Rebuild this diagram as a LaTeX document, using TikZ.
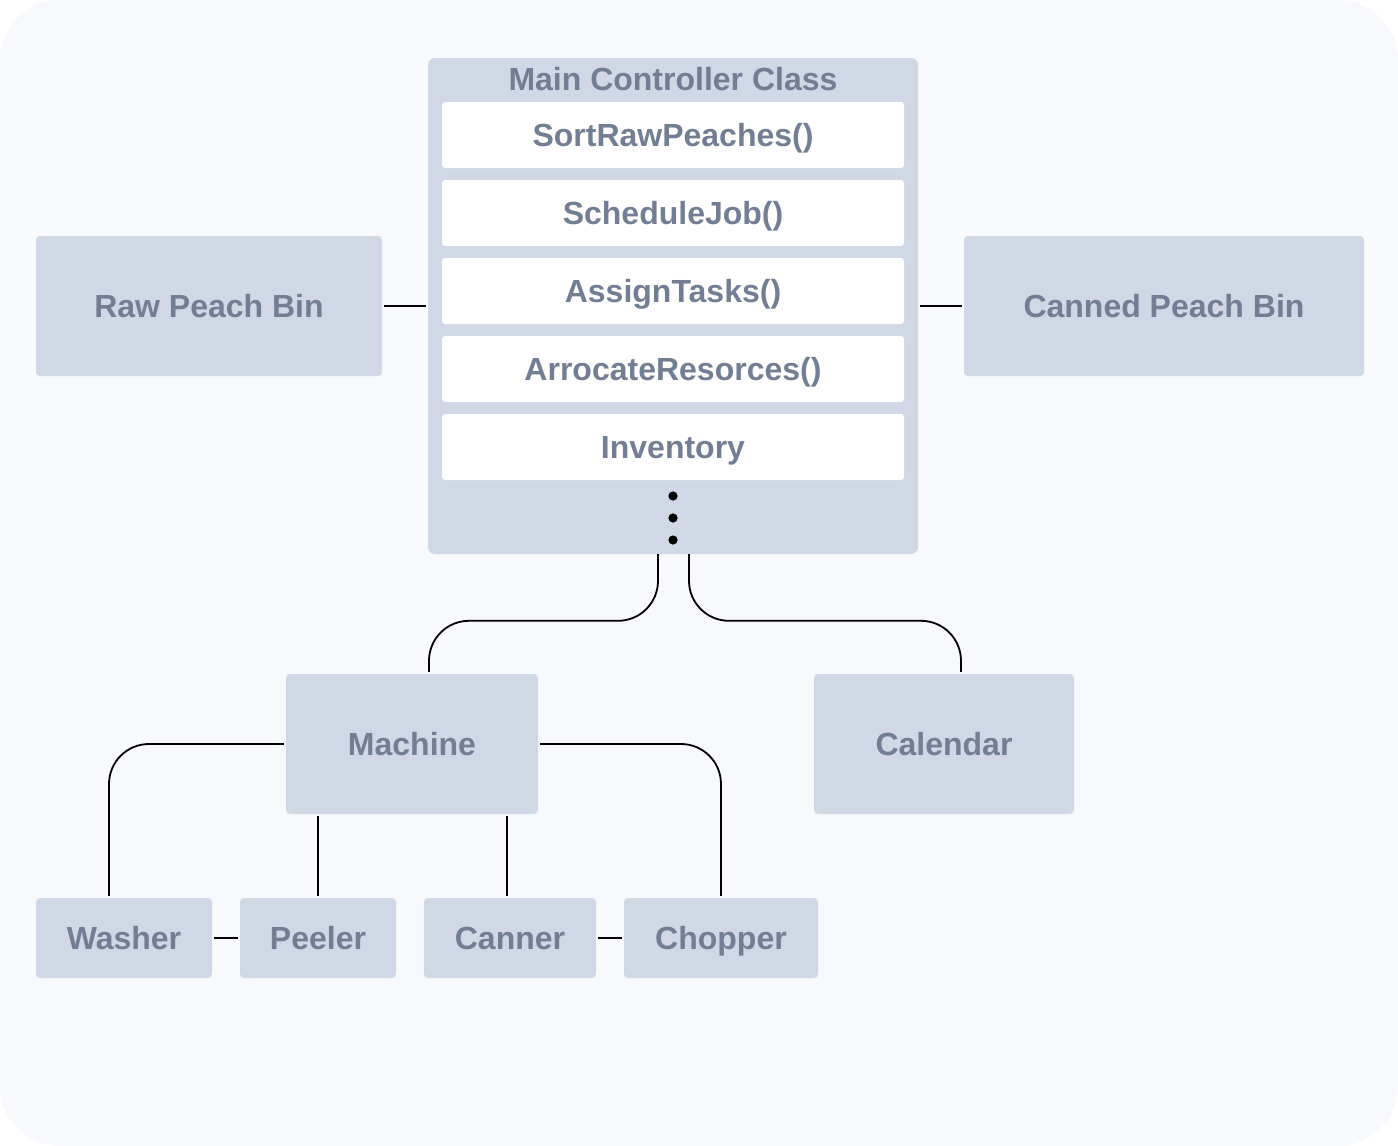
\documentclass[tikz,border=0pt]{standalone}
\usepackage{fontspec}
\setmainfont{Liberation Sans}
\definecolor{bg}{HTML}{F7F9FC}
\definecolor{boxfill}{HTML}{CFD8E4}
\definecolor{txt}{HTML}{717E93}
\tikzset{
  lbl/.style={inner sep=0pt, text=txt, text height=23pt, text depth=0pt,
    font=\fontsize{32}{38}\selectfont\bfseries},
  box/.style={lbl, fill=boxfill, rounded corners=4pt},
  rowbox/.style={lbl, fill=white, rounded corners=3pt,
    minimum width=462pt, minimum height=66pt},
  conn/.style={draw=black, line width=1.8pt, shorten <=2pt, shorten >=2pt},
  curv/.style={conn, rounded corners=40pt},
}
\begin{document}
\begin{tikzpicture}[x=1pt,y=-1pt]
\useasboundingbox (0,0) rectangle (1398,1146);
\fill[white] (0,0) rectangle (1398,1146);
\fill[bg, rounded corners=60pt] (0,0) rectangle (1398,1146);

% main controller
\node[box, minimum width=490pt, minimum height=496pt, rounded corners=7pt] (main) at (673,306) {};
\node[lbl] (title) at (673,79) {Main Controller Class};
\node[rowbox] (r1) at (673,135) {SortRawPeaches()};
\node[rowbox] (r2) at (673,213) {ScheduleJob()};
\node[rowbox] (r3) at (673,291) {AssignTasks()};
\node[rowbox] (r4) at (673,369) {ArrocateResorces()};
\node[rowbox] (r5) at (673,447) {Inventory};
\fill[black] (673,496) circle (4.6pt);
\fill[black] (673,518) circle (4.6pt);
\fill[black] (673,540) circle (4.6pt);

% side bins
\node[box, minimum width=346pt, minimum height=140pt] (raw) at (209,306) {Raw Peach Bin};
\node[box, minimum width=400pt, minimum height=140pt] (canned) at (1164,306) {Canned Peach Bin};

% second level
\node[box, minimum width=252pt, minimum height=140pt] (machine) at (412,744) {Machine};
\node[box, minimum width=260pt, minimum height=140pt] (calendar) at (944,744) {Calendar};

% third level
\node[box, minimum width=176pt, minimum height=80pt] (washer) at (124,938) {Washer};
\node[box, minimum width=156pt, minimum height=80pt] (peeler) at (318,938) {Peeler};
\node[box, minimum width=172pt, minimum height=80pt] (canner) at (510,938) {Canner};
\node[box, minimum width=194pt, minimum height=80pt] (chopper) at (721,938) {Chopper};

\coordinate (cantop) at ([xshift=-3pt]canner.north);
\coordinate (washtop) at ([xshift=-15pt]washer.north);
\coordinate (mainl) at ([xshift=-15pt]main.south);
\coordinate (mainr) at ([xshift=16pt]main.south);
\coordinate (macht) at ([xshift=17pt]machine.north);
\coordinate (calt) at ([xshift=17pt]calendar.north);

% connectors
\draw[conn] (raw.east) -- (raw.east -| main.west);
\draw[conn] (main.east |- canned.west) -- (canned.west);
\draw[curv, shorten <=0pt] (mainl) |- ([yshift=53pt]macht) -- (macht);
\draw[curv, shorten <=0pt] (mainr) |- ([yshift=53pt]calt) -- (calt);
\draw[curv] (machine.west) -| (washtop);
\draw[curv] (machine.east) -| (chopper.north);
\draw[conn] (machine.south -| peeler.north) -- (peeler.north);
\draw[conn] (machine.south -| cantop) -- (cantop);
\draw[conn] (washer.east) -- (peeler.west);
\draw[conn] (canner.east) -- (chopper.west);
\end{tikzpicture}
\end{document}
